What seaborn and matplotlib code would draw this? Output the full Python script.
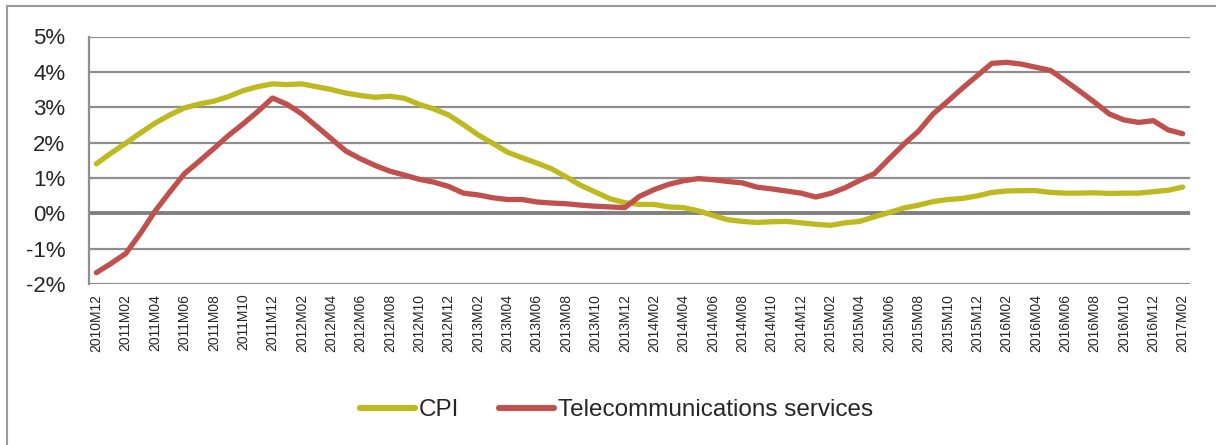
import pandas as pd
import matplotlib.pyplot as plt
import seaborn as sns
from matplotlib.patches import Rectangle
from matplotlib.ticker import FuncFormatter


# Monthly periods 2010M12 .. 2017M02
months = [p.strftime("%YM%m") for p in pd.period_range("2010-12", "2017-02", freq="M")]

cpi = [1.40, 1.70, 1.98, 2.27, 2.55, 2.78, 2.98, 3.09, 3.17, 3.30,
       3.47, 3.58, 3.66, 3.64, 3.66, 3.58, 3.50, 3.40, 3.33, 3.28,
       3.31, 3.25, 3.08, 2.95, 2.78, 2.51, 2.22, 1.98, 1.73, 1.57,
       1.42, 1.26, 1.03, 0.79, 0.60, 0.41, 0.30, 0.25, 0.25, 0.18,
       0.16, 0.07, -0.06, -0.18, -0.23, -0.26, -0.24, -0.23, -0.27, -0.31,
       -0.34, -0.27, -0.23, -0.10, 0.02, 0.15, 0.23, 0.33, 0.39, 0.42,
       0.49, 0.59, 0.63, 0.64, 0.64, 0.59, 0.57, 0.57, 0.58, 0.56,
       0.57, 0.57, 0.61, 0.65, 0.74]

telecom = [-1.68, -1.42, -1.14, -0.57, 0.06, 0.60, 1.12, 1.47, 1.83, 2.20,
           2.53, 2.88, 3.26, 3.08, 2.81, 2.46, 2.11, 1.76, 1.54, 1.35,
           1.19, 1.08, 0.96, 0.88, 0.76, 0.57, 0.52, 0.44, 0.39, 0.39,
           0.32, 0.29, 0.27, 0.23, 0.20, 0.18, 0.16, 0.48, 0.67, 0.82,
           0.92, 0.98, 0.95, 0.90, 0.86, 0.74, 0.69, 0.63, 0.57, 0.46,
           0.56, 0.72, 0.93, 1.12, 1.54, 1.95, 2.32, 2.81, 3.17, 3.54,
           3.89, 4.24, 4.27, 4.22, 4.13, 4.04, 3.75, 3.45, 3.14, 2.81,
           2.64, 2.57, 2.62, 2.36, 2.25]

series_names = ["CPI", "Telecommunications services"]
colors = ["#BDB91F", "#C0504D"]

df = pd.DataFrame({"pos": range(len(months)), "month": months,
                   "CPI": cpi, "Telecommunications services": telecom})

sns.set_style("white")
plt.rcParams["font.family"] = ["Liberation Sans", "DejaVu Sans"]

fig = plt.figure(figsize=(12.16, 4.45), dpi=100)
ax = fig.add_axes([89 / 1216, 1 - 284 / 445, (1190 - 89) / 1216, (284 - 36.5) / 445])

# light outer frame of the chart area (runs off the right and bottom edges)
fig.patches.append(Rectangle((7 / 1216, -0.2), 1.2, 1.2 - 6 / 445, transform=fig.transFigure,
                             fill=False, edgecolor="#9a9a9a", linewidth=1.5))

# gridlines
for v in range(-2, 6):
    if v == 0:
        continue
    ax.axhline(v, color="#8e8e8e", linewidth=1.6, zorder=0)
ax.axhline(0, color="#808080", linewidth=2.8, zorder=1)

for name, col in zip(series_names, colors):
    sns.lineplot(data=df, x="pos", y=name, ax=ax, color=col, linewidth=3.8,
                 label=name, legend=False, zorder=3)

ax.set_xlim(-0.5, len(months) - 0.5)
ax.set_ylim(-2, 5)
ax.set_yticks(range(-2, 6))
ax.yaxis.set_major_formatter(FuncFormatter(lambda v, _: f"{int(v)}%"))
ax.set_xticks(range(0, len(months), 2))
ax.set_xticklabels(months[::2], rotation=90, fontsize=10)
ax.tick_params(axis="y", labelsize=16, length=0, pad=17)
ax.tick_params(axis="x", length=0, pad=7)
ax.set_xlabel("")
ax.set_ylabel("")

for s in ["top", "right", "bottom"]:
    ax.spines[s].set_visible(False)
ax.spines["left"].set_color("#8e8e8e")
ax.spines["left"].set_linewidth(1.6)

handles = [plt.Line2D([], [], color=c, linewidth=4.4, solid_capstyle="round") for c in colors]
fig.legend(handles, series_names, loc="center", bbox_to_anchor=(0.507, 0.078), ncol=2,
           frameon=False, fontsize=17.5, handlelength=2.25, handletextpad=0.16,
           columnspacing=1.65)

fig.savefig("out.png", dpi=100)
